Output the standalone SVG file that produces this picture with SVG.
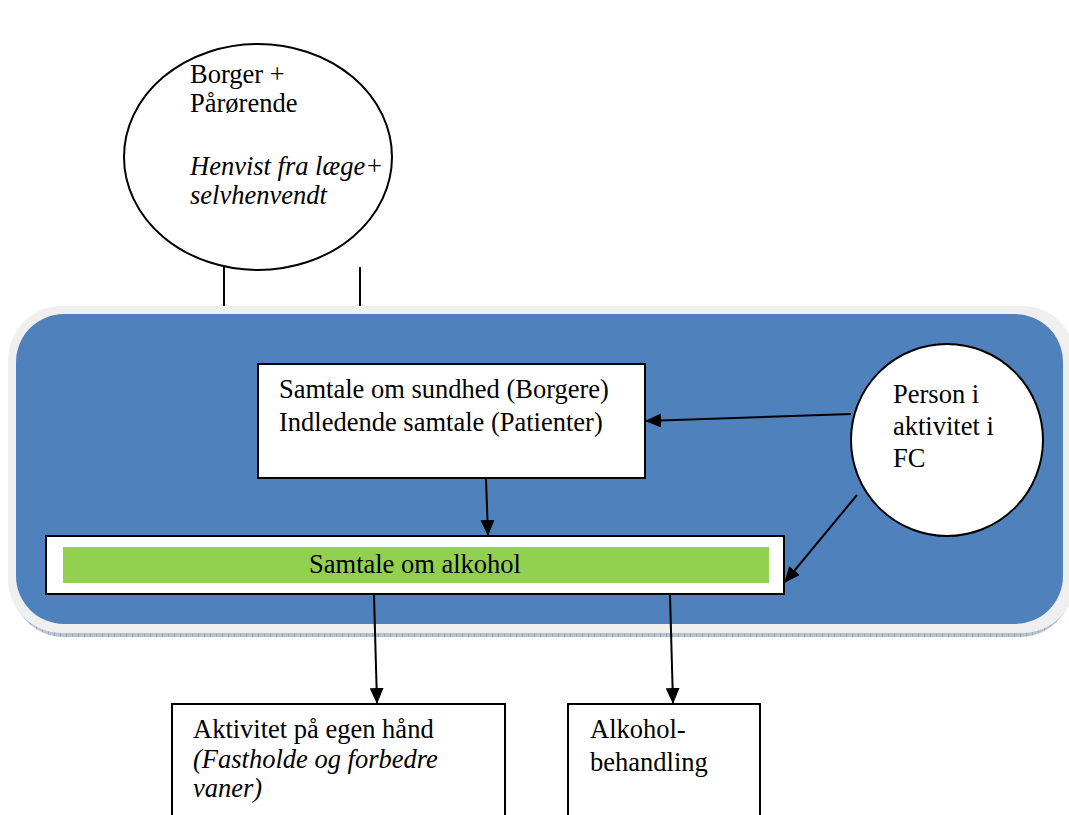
<svg xmlns="http://www.w3.org/2000/svg" width="1069" height="815" viewBox="0 0 1069 815">
  <style>
    .t { font-family: "Liberation Serif", "Times New Roman", serif; font-size: 26.5px; fill: #000; }
    .i { font-style: italic; }
    .box { fill: #fff; stroke: #000; stroke-width: 2; }
    .conn { stroke: #000; stroke-width: 2; fill: none; }
  </style>
  <defs>
    <marker id="arr" markerUnits="userSpaceOnUse" markerWidth="16" markerHeight="14" refX="15" refY="7" orient="auto">
      <path d="M0,0 L16,7 L0,14 Z" fill="#000"/>
    </marker>
    <pattern id="hatch" width="6" height="6" patternUnits="userSpaceOnUse">
      <rect width="6" height="6" fill="#b8c2d2"/>
      <line x1="0" y1="0" x2="0" y2="6" stroke="#7f8ba0" stroke-width="1"/>
    </pattern>
  </defs>

  <rect width="1069" height="815" fill="#fff"/>

  <g id="connectors-top">
    <line class="conn" x1="224" y1="258" x2="224" y2="306" stroke-width="1.8"/>
    <line class="conn" x1="360" y1="267" x2="360" y2="306" stroke-width="1.8"/>
  </g>

  <g id="panel">
    <rect x="12" y="311" width="1060" height="326" rx="52" fill="url(#hatch)"/>
    <rect x="8" y="306" width="1068" height="327" rx="54" fill="#efefef"/>
    <rect x="16" y="314" width="1047" height="310" rx="48" fill="#4f81bd"/>
  </g>

  <g id="n-borger">
    <ellipse cx="258" cy="157" rx="134" ry="113" fill="#fff" stroke="#000" stroke-width="2"/>
    <text class="t" x="190" y="83">Borger +</text>
    <text class="t" x="190" y="112">Pårørende</text>
    <text class="t i" x="190" y="175">Henvist fra læge+</text>
    <text class="t i" x="190" y="204">selvhenvendt</text>
  </g>

  <g id="n-samtale-sundhed">
    <rect class="box" x="258" y="364" width="387" height="114"/>
    <text class="t" x="279" y="398">Samtale om sundhed (Borgere)</text>
    <text class="t" x="279" y="431">Indledende samtale (Patienter)</text>
  </g>

  <g id="n-person">
    <circle cx="947" cy="440" r="96" fill="#fff" stroke="#000" stroke-width="2"/>
    <text class="t" x="893" y="403">Person i</text>
    <text class="t" x="893" y="435">aktivitet i</text>
    <text class="t" x="893" y="467">FC</text>
  </g>

  <g id="n-alkohol">
    <rect class="box" x="46" y="536" width="738" height="58"/>
    <rect x="63" y="547" width="706" height="36" fill="#92d050"/>
    <text class="t" x="415" y="573" text-anchor="middle">Samtale om alkohol</text>
  </g>

  <g id="n-aktivitet">
    <rect class="box" x="172" y="704" width="333" height="130"/>
    <text class="t" x="193" y="738">Aktivitet på egen hånd</text>
    <text class="t i" x="193" y="768">(Fastholde og forbedre</text>
    <text class="t i" x="193" y="797">vaner)</text>
  </g>

  <g id="n-behandling">
    <rect class="box" x="568" y="704" width="192" height="130"/>
    <text class="t" x="590" y="738">Alkohol-</text>
    <text class="t" x="590" y="771">behandling</text>
  </g>

  <g id="connectors">
    <line class="conn" x1="851" y1="414" x2="646" y2="421" marker-end="url(#arr)"/>
    <line class="conn" x1="486" y1="479" x2="488" y2="535" marker-end="url(#arr)"/>
    <line class="conn" x1="857" y1="495" x2="785" y2="582" marker-end="url(#arr)"/>
    <line class="conn" x1="374" y1="595" x2="377" y2="703" marker-end="url(#arr)"/>
    <line class="conn" x1="670" y1="595" x2="673" y2="703" marker-end="url(#arr)"/>
  </g>
</svg>
